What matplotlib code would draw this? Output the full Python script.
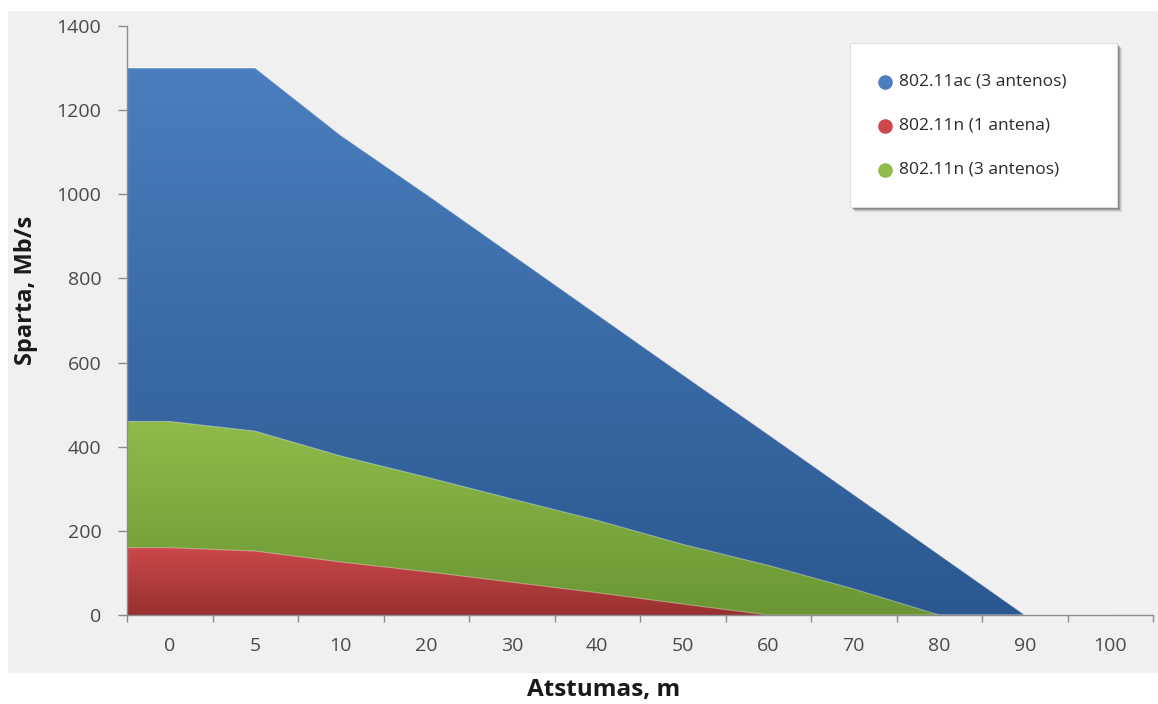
import numpy as np
import matplotlib
matplotlib.use("Agg")
import matplotlib.pyplot as plt
from matplotlib.patches import Rectangle, PathPatch
from matplotlib.path import Path
from matplotlib.colors import LinearSegmentedColormap
from matplotlib.lines import Line2D

# Distance categories (m) and throughput (Mb/s) per standard
distances = ['0', '5', '10', '20', '30', '40', '50', '60', '70', '80', '90', '100']
ac_3_antennas = [1300, 1300, 1140, 1000, 857, 714, 571, 429, 286, 143, 0, 0]
n_3_antennas = [460, 437, 378, 328, 276, 225, 168, 118, 62, 0, 0, 0]
n_1_antenna = [160, 152, 126, 103, 78, 53, 26, 0, 0, 0, 0, 0]
series_labels = ['802.11ac (3 antenos)', '802.11n (1 antena)', '802.11n (3 antenos)']

# (top colour, bottom colour) of each gradient fill
ac_colors = ('#4a7ebe', '#2b5890')
n3_colors = ('#90bb4a', '#6a9634')
n1_colors = ('#cc484a', '#98302f')

BG = '#f0f0f0'
FONT = ['Open Sans', 'DejaVu Sans']

fig = plt.figure(figsize=(11.58, 7.04), dpi=100, facecolor='white')
fig.patches.append(Rectangle((8 / 1158, 1 - 673 / 704), 1150 / 1158, (673 - 11) / 704,
                             transform=fig.transFigure, facecolor=BG,
                             edgecolor='none', zorder=-5))

ax = fig.add_axes([127 / 1158, 1 - 615 / 704, (1153 - 127) / 1158, (615 - 26) / 704])
ax.set_facecolor('none')
ax.set_zorder(1)


def gradient_area(values, colors, z):
    idx = np.arange(len(values), dtype=float)
    vals = np.asarray(values, dtype=float)
    # the area runs from the left edge of the plot at the first value
    xs = np.r_[-0.5, idx]
    ys = np.r_[vals[0], vals]
    verts = np.column_stack([np.r_[xs, xs[::-1]], np.r_[ys, np.zeros_like(ys)]])
    patch = PathPatch(Path(verts), facecolor='none', edgecolor='none',
                      transform=ax.transData)
    ax.add_patch(patch)
    cmap = LinearSegmentedColormap.from_list('g', [colors[1], colors[0]])
    grad = np.linspace(0, 1, 256).reshape(-1, 1)
    im = ax.imshow(grad, extent=[xs.min(), xs.max(), 0, ys.max()], origin='lower',
                   aspect='auto', cmap=cmap, zorder=z, interpolation='bilinear')
    im.set_clip_path(patch)
    ax.plot(xs, ys, color='white', lw=0.8, alpha=0.35, zorder=z + 0.1,
            solid_joinstyle='round')


gradient_area(ac_3_antennas, ac_colors, 2)
gradient_area(n_3_antennas, n3_colors, 3)
gradient_area(n_1_antenna, n1_colors, 4)

ax.set_xlim(-0.5, len(distances) - 0.5)
ax.set_ylim(0, 1400)

for side in ('top', 'right'):
    ax.spines[side].set_visible(False)
for side in ('left', 'bottom'):
    ax.spines[side].set_color('#8c8c8c')
    ax.spines[side].set_linewidth(1.0)
    ax.spines[side].set_zorder(6)

ax.set_yticks(np.arange(0, 1401, 200))
ax.tick_params(axis='y', direction='out', length=6.5, width=1.0, color='#8c8c8c',
               pad=12, labelsize=14, labelcolor='#4a4a4a')
ax.set_xticks(np.arange(len(distances)))
ax.set_xticklabels(distances)
ax.set_xticks(np.arange(len(distances) + 1) - 0.5, minor=True)
ax.tick_params(axis='x', which='major', length=0, pad=16, labelsize=14,
               labelcolor='#4a4a4a')
ax.tick_params(axis='x', which='minor', direction='out', length=5, width=1.0,
               color='#8c8c8c')
for lbl in ax.get_xticklabels() + ax.get_yticklabels():
    lbl.set_family(FONT)

fig.text(26 / 1158, 1 - 290 / 704, 'Sparta, Mb/s', rotation=90, ha='center',
         va='center', fontsize=17, fontweight='bold', color='#1a1a1a', family=FONT)
fig.text(604 / 1158, 1 - 690 / 704, 'Atstumas, m', ha='center', va='center',
         fontsize=17.5, fontweight='bold', color='#1a1a1a', family=FONT)

# Legend box with a soft drop shadow
lx0, ly0, lx1, ly1 = 850, 43, 1117, 207
for off, alpha in ((5, 0.10), (4, 0.15), (3, 0.22), (2, 0.28)):
    fig.patches.append(Rectangle(((lx0 + off) / 1158, 1 - (ly1 + off) / 704),
                                 (lx1 - lx0) / 1158, (ly1 - ly0) / 704,
                                 transform=fig.transFigure, facecolor='#303030',
                                 alpha=alpha, edgecolor='none', zorder=7))
fig.patches.append(Rectangle((lx0 / 1158, 1 - ly1 / 704), (lx1 - lx0) / 1158,
                             (ly1 - ly0) / 704, transform=fig.transFigure,
                             facecolor='white', edgecolor='#e0e0e0', lw=0.8, zorder=8))

legend_colors = [ac_colors[0], n1_colors[0], n3_colors[0]]
for i, (lab, col) in enumerate(zip(series_labels, legend_colors)):
    yy = 1 - (82 + i * 44) / 704
    fig.add_artist(Line2D([885 / 1158], [yy], marker='o', markersize=10.5,
                          markerfacecolor=col, markeredgecolor='none',
                          transform=fig.transFigure, zorder=9))
    fig.text(899 / 1158, yy, lab, ha='left', va='center', fontsize=12.5,
             color='#2a2a2a', family=FONT, zorder=9)

fig.savefig('out.png', dpi=100, facecolor='white')
